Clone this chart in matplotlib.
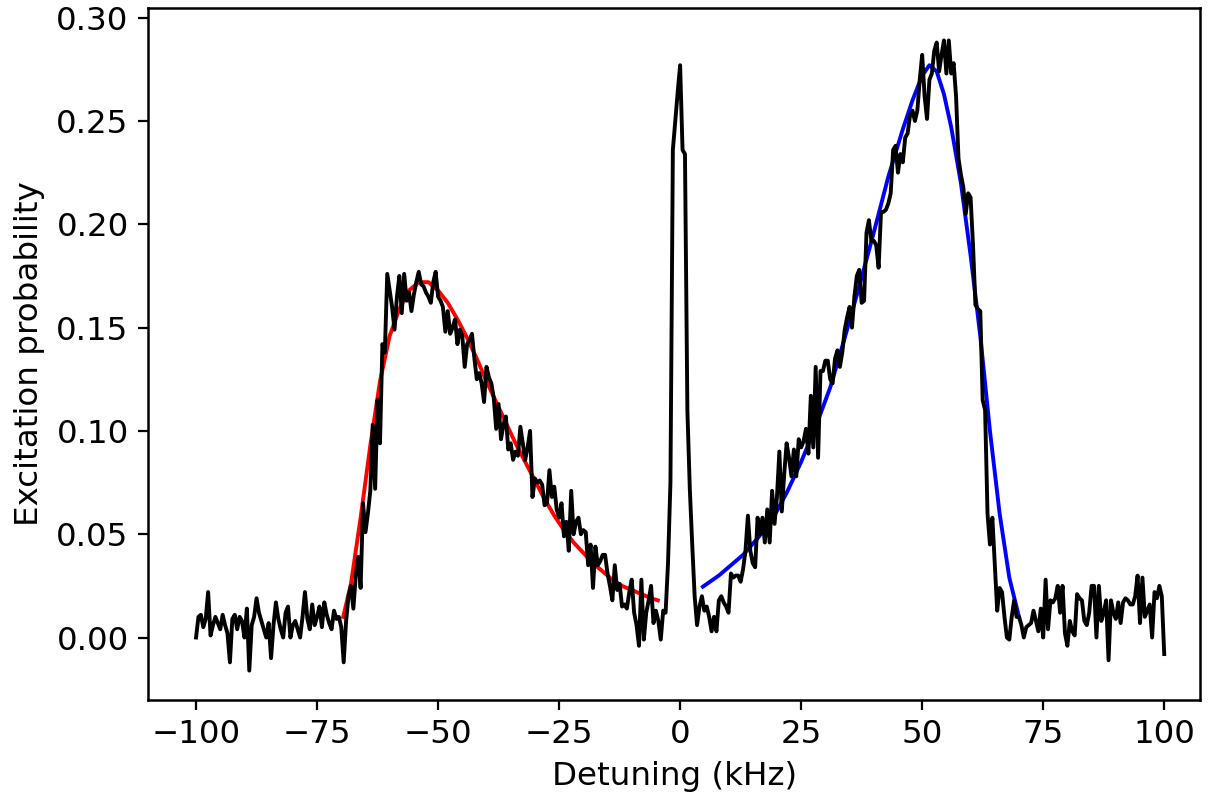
# Excitation spectrum with sideband fits
import matplotlib
matplotlib.use("Agg")
import matplotlib.pyplot as plt
import numpy as np

# scan grid, 0.5 kHz steps from -100 to 100 kHz
detuning = np.linspace(-100, 100, 401)

# measured excitation probability (one row = 10 kHz)
excitation = [
    0.000, 0.010, 0.011, 0.005, 0.009, 0.022, 0.001, 0.006, 0.010, 0.007, 0.004, 0.011, 0.006, 0.002, -0.012, 0.009, 0.011, 0.004, 0.010, 0.008,
    0.000, 0.014, -0.016, 0.006, 0.010, 0.019, 0.012, 0.008, 0.004, 0.000, 0.007, -0.010, 0.006, 0.017, 0.009, 0.004, 0.000, 0.012, 0.015, 0.000,
    0.006, 0.008, 0.004, 0.000, 0.010, 0.022, 0.009, 0.004, 0.016, 0.006, 0.010, 0.015, 0.005, 0.017, 0.011, 0.007, 0.004, 0.013, 0.009, 0.010,
    0.005, -0.012, 0.008, 0.020, 0.025, 0.014, 0.030, 0.039, 0.024, 0.065, 0.051, 0.060, 0.071, 0.103, 0.072, 0.115, 0.094, 0.142, 0.138, 0.176,
    0.168, 0.160, 0.149, 0.165, 0.175, 0.157, 0.176, 0.163, 0.167, 0.158, 0.166, 0.172, 0.177, 0.171, 0.170, 0.167, 0.165, 0.162, 0.172, 0.177,
    0.165, 0.163, 0.160, 0.148, 0.158, 0.147, 0.150, 0.154, 0.142, 0.149, 0.146, 0.131, 0.142, 0.144, 0.147, 0.135, 0.125, 0.128, 0.123, 0.114,
    0.131, 0.126, 0.123, 0.116, 0.101, 0.113, 0.096, 0.103, 0.107, 0.091, 0.094, 0.086, 0.090, 0.088, 0.102, 0.094, 0.086, 0.092, 0.100, 0.068,
    0.077, 0.075, 0.076, 0.074, 0.064, 0.065, 0.081, 0.068, 0.073, 0.062, 0.058, 0.065, 0.049, 0.056, 0.042, 0.071, 0.050, 0.056, 0.058, 0.050,
    0.052, 0.051, 0.035, 0.045, 0.024, 0.044, 0.035, 0.037, 0.040, 0.040, 0.031, 0.025, 0.018, 0.035, 0.023, 0.026, 0.015, 0.016, 0.014, 0.022,
    0.028, 0.012, 0.006, -0.004, 0.028, -0.001, 0.012, 0.018, 0.025, 0.007, 0.013, 0.008, -0.001, 0.013, 0.012, 0.036, 0.075, 0.236, 0.250, 0.264,
    0.277, 0.236, 0.234, 0.110, 0.072, 0.045, 0.020, 0.006, 0.015, 0.020, 0.013, 0.015, 0.010, 0.003, 0.010, 0.003, 0.018, 0.020, 0.017, 0.015,
    0.012, 0.031, 0.029, 0.030, 0.030, 0.027, 0.033, 0.042, 0.059, 0.042, 0.036, 0.034, 0.058, 0.050, 0.058, 0.046, 0.062, 0.046, 0.071, 0.055,
    0.068, 0.090, 0.061, 0.079, 0.094, 0.087, 0.078, 0.091, 0.078, 0.096, 0.092, 0.095, 0.101, 0.089, 0.117, 0.092, 0.131, 0.087, 0.129, 0.129,
    0.134, 0.134, 0.125, 0.123, 0.135, 0.139, 0.131, 0.138, 0.149, 0.155, 0.160, 0.150, 0.165, 0.175, 0.178, 0.162, 0.163, 0.196, 0.202, 0.192,
    0.192, 0.190, 0.179, 0.206, 0.206, 0.207, 0.210, 0.215, 0.236, 0.238, 0.225, 0.234, 0.230, 0.242, 0.244, 0.253, 0.255, 0.250, 0.255, 0.270,
    0.282, 0.262, 0.251, 0.270, 0.273, 0.284, 0.288, 0.274, 0.282, 0.289, 0.273, 0.289, 0.273, 0.278, 0.262, 0.232, 0.224, 0.218, 0.205, 0.215,
    0.213, 0.190, 0.161, 0.159, 0.158, 0.115, 0.110, 0.060, 0.045, 0.058, 0.035, 0.013, 0.024, 0.022, 0.010, 0.000, -0.001, 0.010, 0.018, 0.010,
    0.010, 0.006, 0.000, 0.005, 0.006, 0.007, 0.013, 0.008, 0.003, 0.014, 0.000, 0.028, 0.004, 0.018, 0.017, 0.019, 0.025, 0.012, 0.025, 0.002,
    -0.004, 0.008, 0.003, 0.001, 0.021, 0.019, 0.018, 0.008, 0.006, 0.012, 0.025, 0.025, 0.000, 0.025, 0.008, 0.012, 0.018, -0.011, 0.018, 0.012,
    0.009, 0.017, 0.007, 0.017, 0.019, 0.018, 0.016, 0.016, 0.020, 0.030, 0.007, 0.029, 0.010, 0.013, 0.016, 0.000, 0.022, 0.019, 0.025, 0.020,
    -0.008,
]

# red sideband fit
red_x = [-69.6, -68, -66, -64, -62, -60, -58, -56, -54, -52, -50, -48, -46, -44, -42, -40, -38,
         -36, -34, -32, -30, -28, -26, -24, -22, -20, -18, -16, -14, -12, -10, -8, -6, -4.6]
red_y = [0.010, 0.026, 0.058, 0.093, 0.124, 0.146, 0.159, 0.168, 0.172, 0.172, 0.168, 0.162, 0.154,
         0.145, 0.135, 0.124, 0.114, 0.104, 0.094, 0.085, 0.076, 0.067, 0.059, 0.052, 0.046, 0.041,
         0.036, 0.032, 0.028, 0.025, 0.023, 0.021, 0.019, 0.018]

# blue sideband fit
blue_x = [4.7, 8, 10, 13, 16, 19, 22, 25, 28, 31, 34, 37, 40, 43, 46, 48, 50, 51.5, 53, 54.5,
          56, 58, 60, 62, 64, 66, 68, 70]
blue_y = [0.0246, 0.030, 0.034, 0.040, 0.048, 0.057, 0.070, 0.085, 0.102, 0.121, 0.145, 0.170,
          0.196, 0.223, 0.246, 0.260, 0.272, 0.277, 0.274, 0.263, 0.247, 0.220, 0.185, 0.146,
          0.100, 0.060, 0.029, 0.010]

plt.rcParams['font.size'] = 11.7
plt.rcParams['axes.linewidth'] = 0.9

fig = plt.figure(figsize=(6.07, 3.995), dpi=200)
ax = fig.add_axes([0.122, 0.124, 0.8665, 0.866])

ax.plot(red_x, red_y, 'r-', lw=1.4)
ax.plot(blue_x, blue_y, 'b-', lw=1.4)
ax.plot(detuning, excitation, 'k-', lw=1.4)

ax.set_xlim(-109.9, 107.4)
ax.set_ylim(-0.0302, 0.3047)
ax.set_xlabel('Detuning (kHz)')
ax.set_ylabel('Excitation probability')

fig.savefig('out.png', dpi=200)
